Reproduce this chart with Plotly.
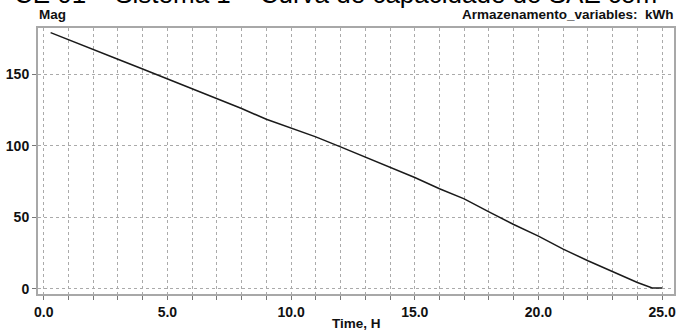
import plotly.graph_objects as go

time_h = [0.28, 1, 2, 3, 4, 5, 6, 7, 8, 9, 10, 11, 12, 13, 14, 15, 16, 17, 18,
          19, 20, 21, 22, 23, 24, 24.6, 25.0]
mag_kwh = [179.0, 174.2, 167.3, 160.4, 153.5, 146.6, 139.7, 132.8, 125.9, 118.4,
           112.0, 106.1, 99.1, 92.1, 84.6, 77.7, 69.9, 62.8, 53.7, 44.9, 36.8,
           27.7, 19.5, 11.9, 4.3, 0.5, 0.5]

x_tick_vals = list(range(0, 26))
x_tick_text = [f"{v:.1f}" if v % 5 == 0 else "" for v in x_tick_vals]
y_tick_vals = [0, 50, 100, 150]
y_tick_text = ["0", "50", "100", "150"]

title_text = "CE 01 – Sistema 1 – Curva de capacidade do SAE com"
y_label = "Mag"
unit_label = "Armazenamento_variables:  kWh"
x_label = "Time, H"

W, H = 678, 333
L, R, T, B = 38, 2, 28, 39
pw, ph = W - L - R, H - T - B


def px(x):
    return (x - L) / pw


def py(y):
    return (H - B - y) / ph


fig = go.Figure()
fig.add_trace(go.Scatter(x=time_h, y=mag_kwh, mode="lines",
                         line=dict(color="#1a1a1a", width=1.5),
                         showlegend=False, hoverinfo="skip"))

lab_font = dict(family="Liberation Sans, Arial, sans-serif", size=13.5, color="#111111")
tick_font = dict(family="Liberation Sans, Arial, sans-serif", size=14, color="#111111",
                 weight="bold")

fig.update_layout(
    width=W, height=H,
    margin=dict(l=L, r=R, t=T, b=B, pad=0),
    paper_bgcolor="white", plot_bgcolor="white",
    xaxis=dict(range=[-0.23, 25.48], tickmode="array", tickvals=x_tick_vals,
               ticktext=x_tick_text, ticks="outside", ticklen=4, tickcolor="#777777",
               showgrid=True, gridcolor="#aaaaaa", griddash="dot", gridwidth=1,
               showline=True, mirror=True, linecolor="#a8a8a8", linewidth=2,
               zeroline=False, tickfont=tick_font),
    yaxis=dict(range=[-3.7, 182.2], tickmode="array", tickvals=y_tick_vals,
               ticktext=y_tick_text, ticks="outside", ticklen=4, tickcolor="#777777",
               showgrid=True, gridcolor="#aaaaaa", griddash="dot", gridwidth=1,
               showline=True, mirror=True, linecolor="#a8a8a8", linewidth=2,
               zeroline=False, tickfont=tick_font),
)

fig.add_annotation(text=title_text, xref="paper", yref="paper", x=px(336), y=py(-6),
                   xanchor="center", yanchor="middle", showarrow=False,
                   font=dict(family="Liberation Sans, Arial, sans-serif", size=26, color="#000000"))
fig.add_annotation(text=f"<b>{y_label}</b>", xref="paper", yref="paper", x=px(37), y=py(14),
                   xanchor="left", yanchor="middle", showarrow=False, font=lab_font)
fig.add_annotation(text=f"<b>{unit_label}</b>", xref="paper", yref="paper", x=px(678), y=py(14),
                   xanchor="right", yanchor="middle", showarrow=False, font=lab_font)
fig.add_annotation(text=f"<b>{x_label}</b>", xref="paper", yref="paper", x=px(357), y=py(323),
                   xanchor="center", yanchor="middle", showarrow=False, font=lab_font)

fig.write_html("out.html")
